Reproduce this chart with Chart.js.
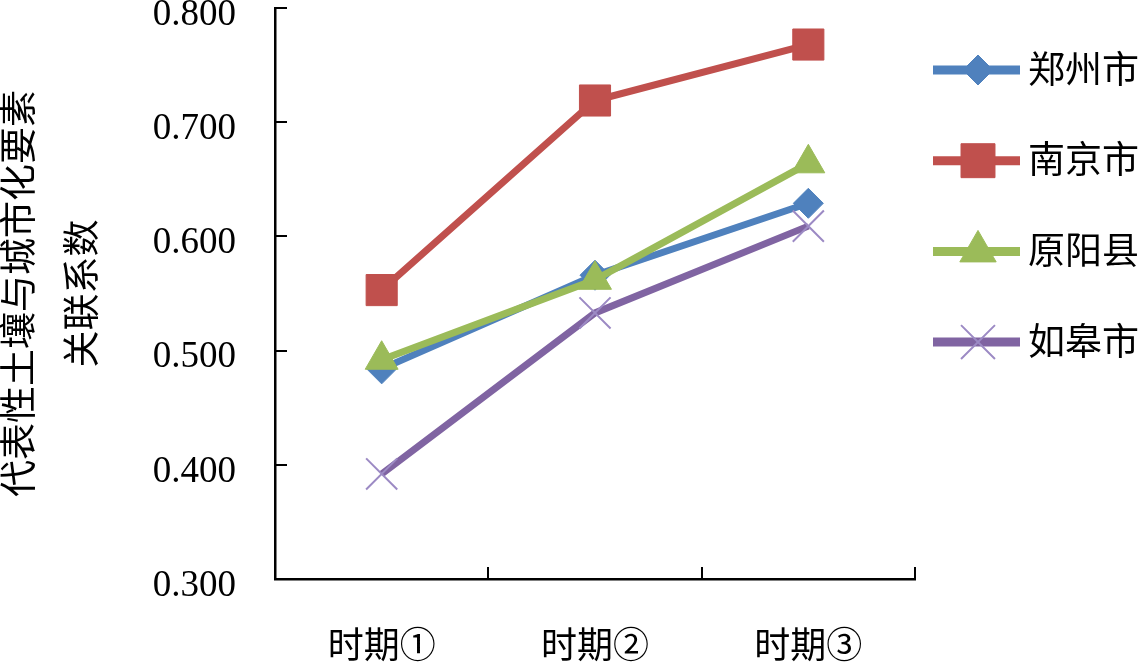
<!DOCTYPE html>
<html>
<head>
<meta charset="utf-8">
<script src="https://cdn.jsdelivr.net/npm/chart.js@4/dist/chart.umd.min.js"></script>
<style>
  html, body { margin: 0; padding: 0; background: #fff; }
  #wrap { width: 1144px; height: 665px; position: relative; }
</style>
</head>
<body>
<div id="wrap"><canvas id="myChart"></canvas></div>
<script>
// datos
const periods = ['时期①', '时期②', '时期③'];
const seriesNames = ['郑州市', '南京市', '原阳县', '如皋市'];
const zhengzhou = [0.484, 0.566, 0.629];
const nanjing = [0.553, 0.719, 0.768];
const yuanyang = [0.492, 0.562, 0.664];
const rugao = [0.392, 0.533, 0.609];
const yMin = 0.3, yMax = 0.8, yStep = 0.1;

const colors = ['#4F81BD', '#C0504D', '#9BBB59', '#8064A2'];
const styles = ['rectRot', 'rect', 'triangle', 'crossRot'];
const radii = [15, 22, 19, 22];
const values = [zhengzhou, nanjing, yuanyang, rugao];
const FONT = "'Liberation Serif', 'Noto Sans CJK SC', serif";

const datasets = values.map((v, i) => ({
    label: seriesNames[i],
    data: v,
    borderColor: colors[i],
    backgroundColor: colors[i],
    borderWidth: 7,
    pointStyle: styles[i],
    pointRadius: radii[i],
    pointHoverRadius: radii[i],
    pointBorderWidth: i === 3 ? 2 : 1,
    pointBorderColor: i === 3 ? '#9C8AC4' : colors[i],
    pointBackgroundColor: colors[i],
    order: 4 - i,
    clip: false,
    tension: 0
}));

// marcas de graduación hacia dentro
const innerTicks = {
    id: 'innerTicks',
    beforeDatasetsDraw(chart) {
        const { ctx, scales: { x, y } } = chart;
        ctx.save();
        ctx.strokeStyle = '#000';
        ctx.lineWidth = 2;
        ctx.beginPath();
        y.ticks.forEach(t => {
            const py = Math.round(y.getPixelForValue(t.value));
            ctx.moveTo(x.left, py);
            ctx.lineTo(x.left + 12, py);
        });
        for (let i = 1; i <= periods.length; i++) {
            const px = Math.round(x.getPixelForValue(i - 0.5));
            ctx.moveTo(px, y.bottom);
            ctx.lineTo(px, y.bottom - 12);
        }
        ctx.stroke();
        ctx.restore();
    }
};

// leyenda con línea + marcador
const sideLegend = {
    id: 'sideLegend',
    afterDraw(chart) {
        const ctx = chart.ctx;
        ctx.save();
        seriesNames.forEach((name, i) => {
            const cy = 70 + i * 90.7;
            ctx.strokeStyle = colors[i];
            ctx.lineWidth = 9;
            ctx.beginPath();
            ctx.moveTo(933, cy);
            ctx.lineTo(1020, cy);
            ctx.stroke();
            ctx.fillStyle = colors[i];
            ctx.strokeStyle = i === 3 ? '#9C8AC4' : colors[i];
            ctx.lineWidth = i === 3 ? 2 : 1;
            Chart.helpers.drawPoint(ctx, {
                pointStyle: styles[i],
                radius: i === 0 ? 15 : radii[i] + 2,
                borderWidth: i === 3 ? 2 : 1,
                rotation: 0
            }, 978, cy);
            ctx.fillStyle = '#000';
            ctx.font = '37px ' + FONT;
            ctx.textBaseline = 'middle';
            ctx.textAlign = 'left';
            ctx.fillText(name, 1028, cy + 3);
        });
        ctx.restore();
    }
};

new Chart(document.getElementById('myChart'), {
    type: 'line',
    data: { labels: periods, datasets: datasets },
    options: {
        responsive: true,
        maintainAspectRatio: false,
        animation: false,
        layout: { autoPadding: false, padding: { top: 8, right: 229, bottom: 0, left: 0 } },
        plugins: {
            legend: { display: false },
            tooltip: { enabled: false }
        },
        scales: {
            x: {
                type: 'category',
                offset: true,
                grid: { display: false },
                border: { display: true, color: '#000', width: 2.5 },
                ticks: {
                    color: '#000',
                    padding: 40,
                    maxRotation: 0,
                    font: { family: FONT, size: 36 }
                },
                afterFit(s) {
                    s.height = 86;
                    s.paddingLeft = 0;
                    s.paddingRight = 0;
                }
            },
            y: {
                min: yMin,
                max: yMax,
                grid: { display: false },
                border: { display: true, color: '#000', width: 2.5 },
                ticks: {
                    stepSize: yStep,
                    color: '#000',
                    padding: 31,
                    labelOffset: 7,
                    font: { family: FONT, size: 37, lineHeight: 0.4 },
                    callback: v => Number(v).toFixed(3)
                },
                title: {
                    display: true,
                    text: ['代表性土壤与城市化要素', '关联系数'],
                    color: '#000',
                    font: { family: FONT, size: 37, lineHeight: 1.7 },
                    padding: { top: -9, bottom: 0 }
                },
                afterFit(s) {
                    s.width = 275;
                    s.paddingTop = 0;
                    s.paddingBottom = 0;
                }
            }
        }
    },
    plugins: [innerTicks, sideLegend]
});
</script>
</body>
</html>
